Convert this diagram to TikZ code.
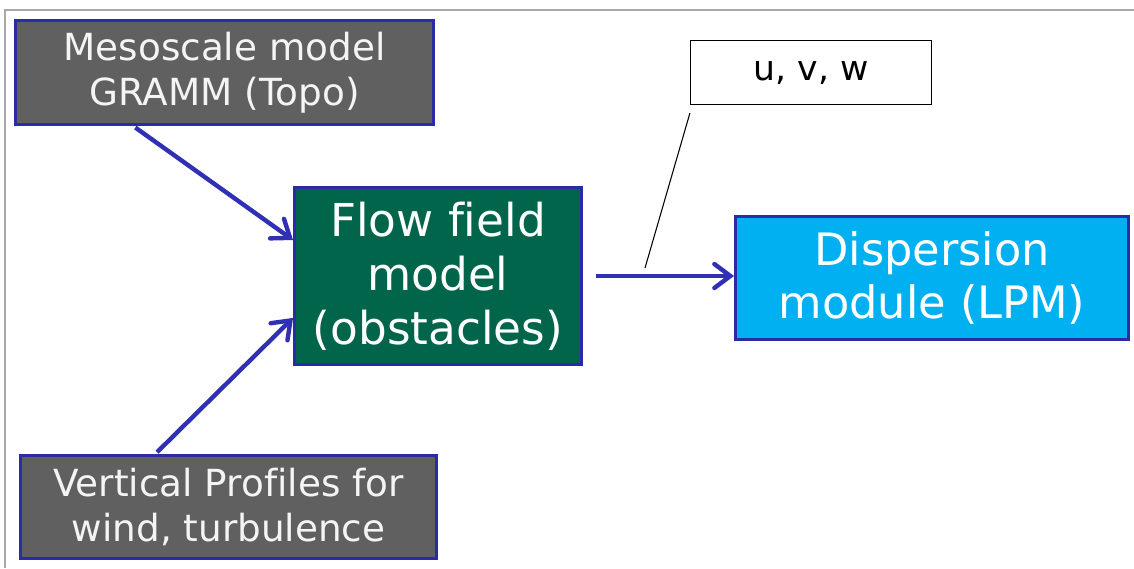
\documentclass[tikz,border=0pt]{standalone}
\usepackage{fontspec}
\setmainfont{DejaVu Sans}[Ligatures=CommonOff]
\usepackage{tikz}
\usetikzlibrary{arrows.meta,calc}
\definecolor{edge}{HTML}{2B2BA6}
\definecolor{arrowblue}{HTML}{3030B4}
\definecolor{slate}{HTML}{606060}
\definecolor{forest}{HTML}{00654A}
\definecolor{sky}{HTML}{00B0F0}
\definecolor{framegray}{HTML}{A8A8A8}
\definecolor{paper}{HTML}{F4F4F4}

\begin{document}
\begin{tikzpicture}[
  x=0.75pt,y=-0.75pt,
  every node/.style={align=center,inner sep=0pt},
  srcbox/.style={draw=edge,line width=2.2pt,fill=slate,text=paper,font=\fontsize{28}{34}\selectfont},
  corebox/.style={draw=edge,line width=2.2pt,fill=forest,text=white,font=\fontsize{34}{40.5}\selectfont},
  sinkbox/.style={draw=edge,line width=2.2pt,fill=sky,text=white,font=\fontsize{33.5}{39.5}\selectfont},
  tagbox/.style={draw=black,line width=0.9pt,fill=white,font=\fontsize{26}{30}\selectfont},
  arr/.style={-{Straight Barb[length=12pt,width=18pt,line cap=round]},line width=3.3pt,color=arrowblue},
  callout/.style={draw=black,line width=0.8pt}
]
\useasboundingbox (0,0) rectangle (1134,568);
% frame of the slide, cut at right and bottom
\draw[framegray,line width=1.5pt] (5,568) -- (5,10) -- (1134,10);

\node[srcbox,minimum width=313.5pt,minimum height=78pt] (meso) at (224.5,72.5) {Mesoscale model\\GRAMM (Topo)};
\node[srcbox,minimum width=312pt,minimum height=77.25pt] (vert) at (228.5,507) {Vertical Profiles for\\wind, turbulence};
\node[corebox,minimum width=215.25pt,minimum height=132.75pt] (flow) at (438,276) {Flow field\\model\\(obstacles)};
\node[sinkbox,minimum width=294.75pt,minimum height=92.25pt] (disp) at (932,278) {Dispersion\\module (LPM)};
\node[tagbox,minimum width=180.75pt,minimum height=48pt] (uvw) at (811,72.5) {u, v, w};

\draw[arr,shorten <=2pt] ($(meso.south west)!0.283!(meso.south east)$) -- ($(flow.north west)!0.3!(flow.south west)$);
\draw[arr,shorten <=2pt] ($(vert.north west)!0.325!(vert.north east)$) -- ($(flow.north west)!0.733!(flow.south west)$);
\draw[arr,shorten <=10pt] (flow.east) -- (flow.east -| disp.west);

\coordinate (ptr) at (645,268);
\draw[callout] ([yshift=-6pt]uvw.south west) -- (ptr);
\end{tikzpicture}
\end{document}
